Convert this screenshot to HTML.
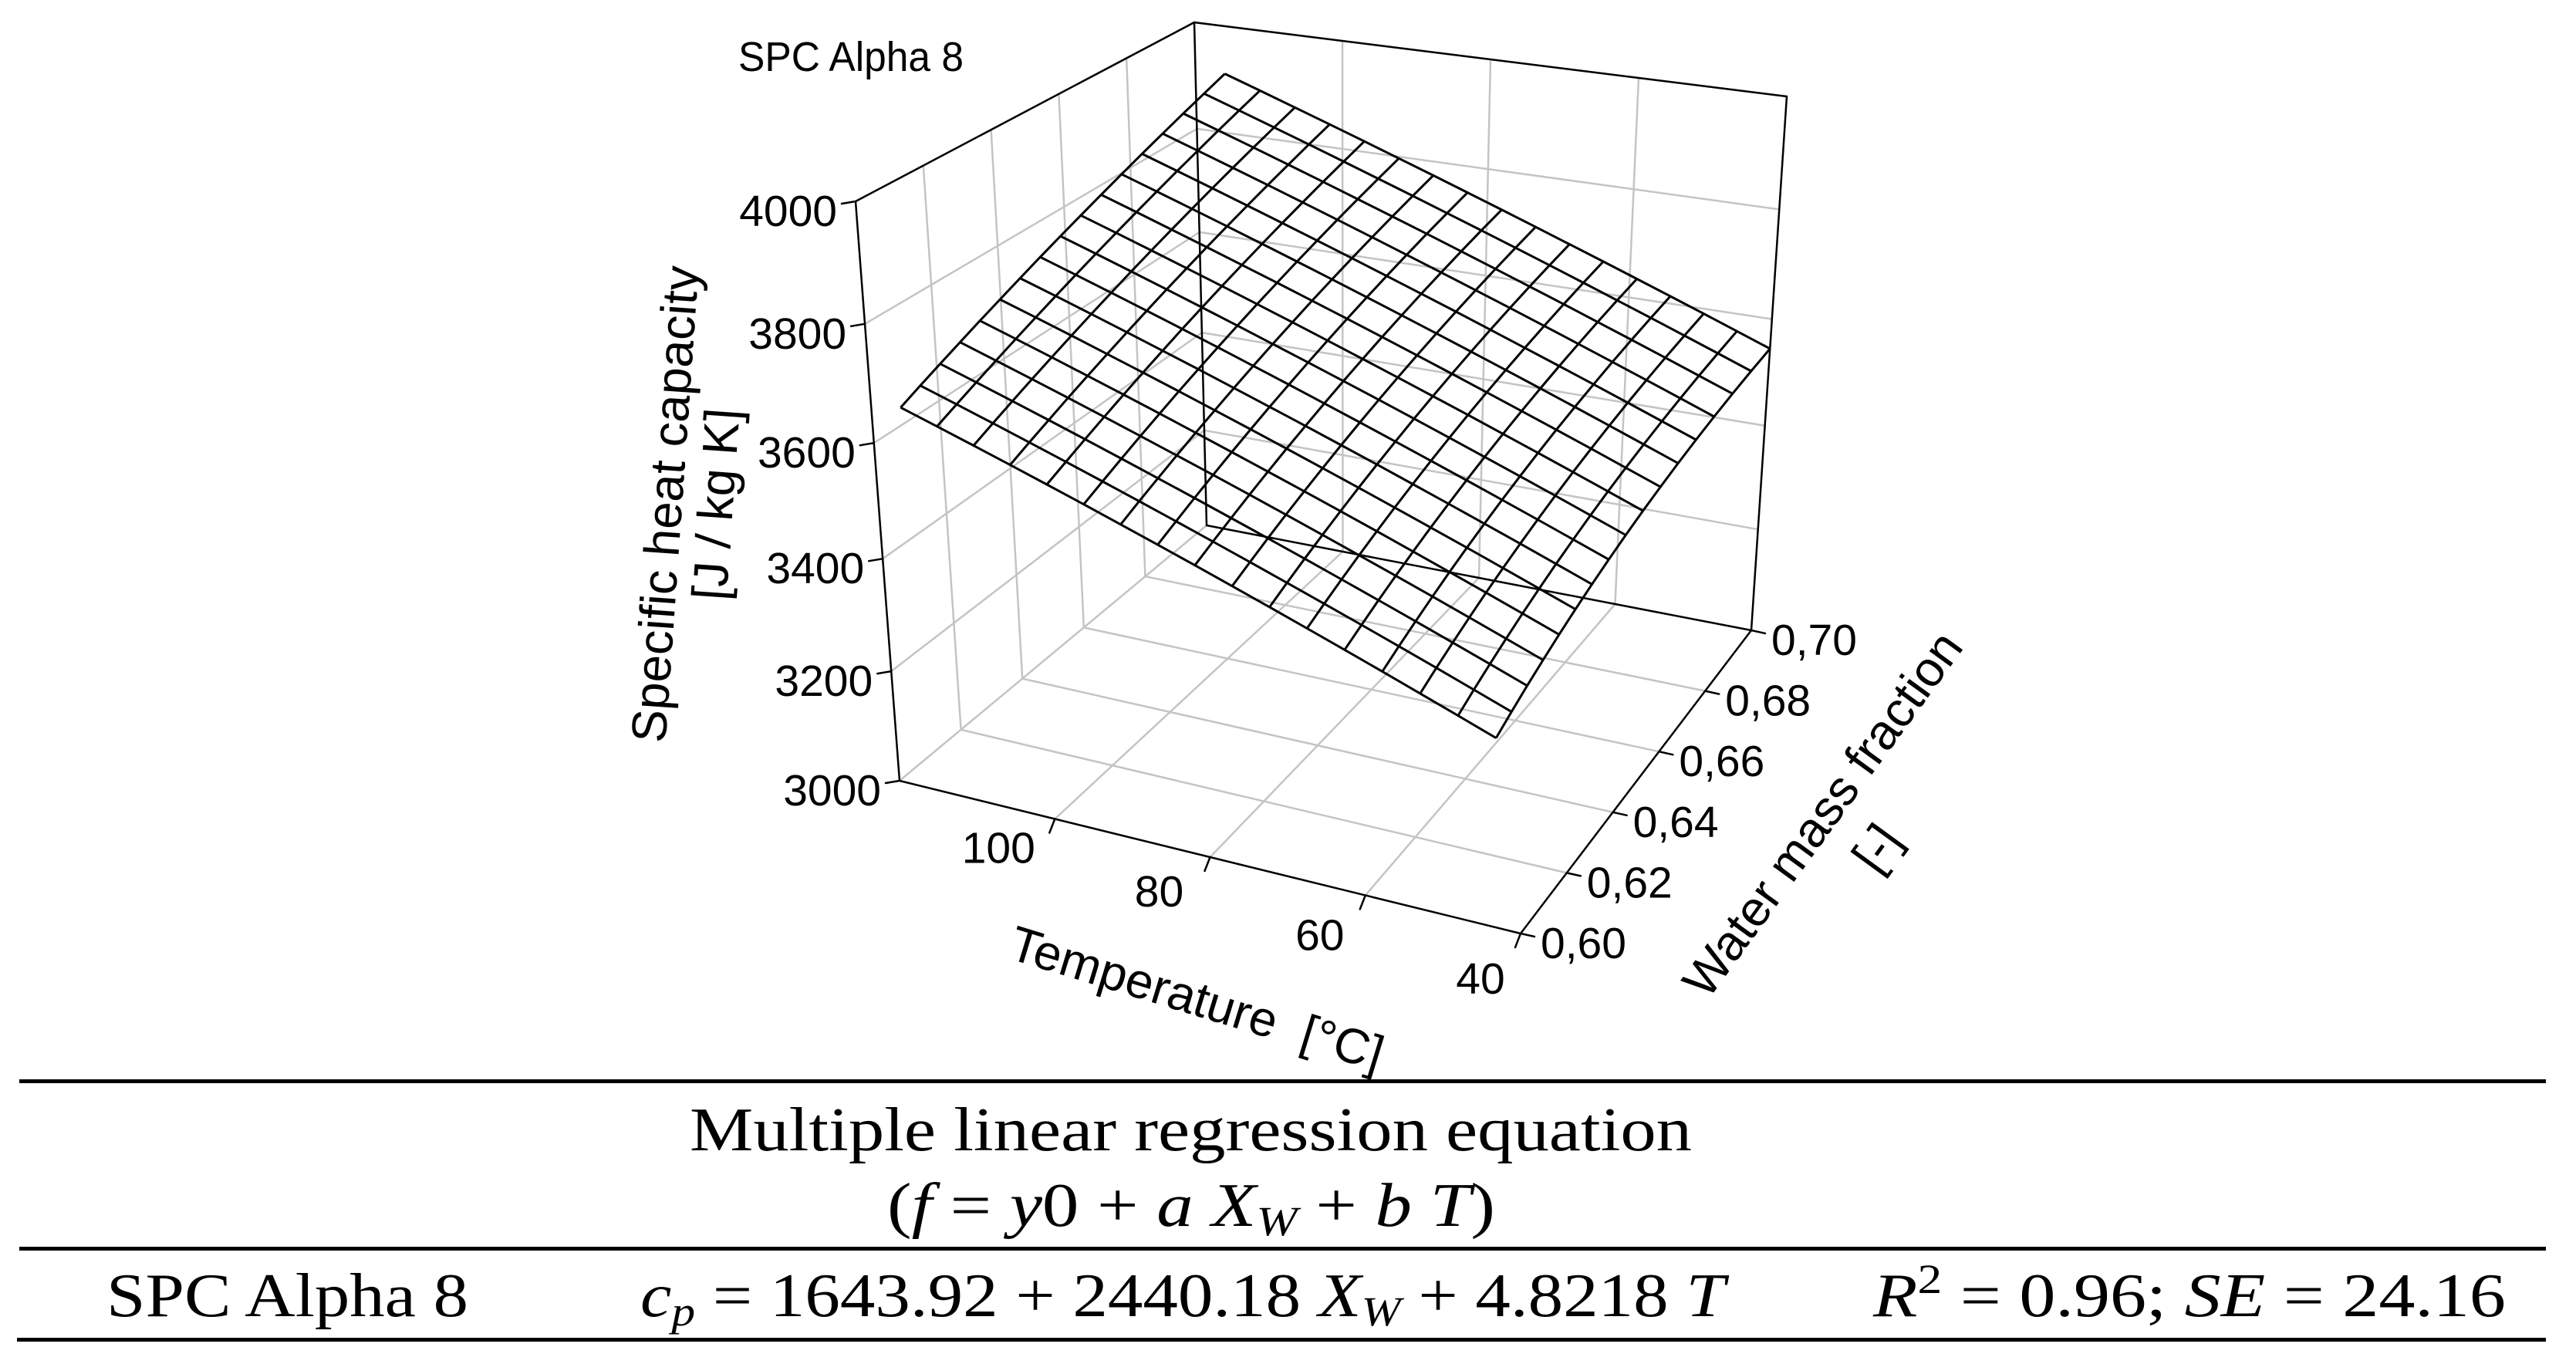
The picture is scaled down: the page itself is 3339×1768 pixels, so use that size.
<!DOCTYPE html>
<html><head><meta charset="utf-8"><style>
html,body{margin:0;padding:0;background:#fff;}
svg{display:block;}
</style></head><body>
<svg id="chart" xmlns="http://www.w3.org/2000/svg" width="3339" height="1768" viewBox="0 0 3339 1768">
<rect x="0" y="0" width="3339" height="1768" fill="#fff"/>
<g id="grid"></g>
<g id="box"></g>
<g id="mesh"></g>
<g id="ticks"></g>
<g id="labels" font-family="Liberation Sans, Arial, sans-serif" font-size="57" fill="#000"></g>
<text x="957" y="92" font-family="Liberation Sans, Arial, sans-serif" font-size="54" textLength="292" lengthAdjust="spacingAndGlyphs">SPC Alpha 8</text>
<g font-family="Liberation Sans, Arial, sans-serif" font-size="64" text-anchor="middle">
<text transform="translate(884,655) rotate(-86)">Specific heat capacity</text>
<text transform="translate(950,655) rotate(-86)">[J / kg K]</text>
</g>
<text xml:space="preserve" font-family="Liberation Sans, Arial, sans-serif" font-size="64" text-anchor="middle" transform="translate(1545,1315) rotate(17)">Temperature  [°C]</text>
<g font-family="Liberation Sans, Arial, sans-serif" font-size="64" text-anchor="middle">
<text transform="translate(2380,1068) rotate(-54)">Water mass fraction</text>
<text transform="translate(2450,1112) rotate(-54)">[-]</text>
</g>
<g font-family="Liberation Serif, 'Times New Roman', serif" font-size="80">
<rect x="25" y="1399" width="3275" height="5" fill="#000"/>
<rect x="25" y="1616" width="3275" height="5" fill="#000"/>
<rect x="22" y="1734" width="3278" height="5" fill="#000"/>
<text x="894" y="1491" textLength="1299" lengthAdjust="spacingAndGlyphs">Multiple linear regression equation</text>
<text x="1150" y="1589" textLength="788" lengthAdjust="spacingAndGlyphs">(<tspan font-style="italic">f</tspan> = <tspan font-style="italic">y</tspan>0 + <tspan font-style="italic">a X</tspan><tspan font-style="italic" font-size="54" dy="12">W</tspan><tspan dy="-12"> + </tspan><tspan font-style="italic">b T</tspan>)</text>
<text x="138" y="1706" textLength="469" lengthAdjust="spacingAndGlyphs">SPC Alpha 8</text>
<text x="830" y="1706" textLength="1406" lengthAdjust="spacingAndGlyphs"><tspan font-style="italic">c</tspan><tspan font-style="italic" font-size="54" dy="12">p</tspan><tspan dy="-12"> = 1643.92 + 2440.18 </tspan><tspan font-style="italic">X</tspan><tspan font-style="italic" font-size="54" dy="12">W</tspan><tspan dy="-12"> + 4.8218 </tspan><tspan font-style="italic">T</tspan></text>
<text x="2428" y="1706" textLength="820" lengthAdjust="spacingAndGlyphs"><tspan font-style="italic">R</tspan><tspan font-size="54" dy="-30">2</tspan><tspan dy="30"> = 0.96; </tspan><tspan font-style="italic">SE</tspan> = 24.16</text>
</g>
</svg>
<script>
// ---- data ----
const tempGrid = [40, 44.75, 49.5, 54.25, 59, 63.75, 68.5, 73.25, 78, 82.75, 87.5, 92.25, 97, 101.75, 106.5, 111.25, 116];
const waterGrid = [0.6, 0.60625, 0.6125, 0.61875, 0.625, 0.63125, 0.6375, 0.64375, 0.65, 0.65625, 0.6625, 0.66875, 0.675, 0.68125, 0.6875, 0.69375, 0.7];
const coefY0 = [1643.92];
const coefA = [2440.18];
const coefB = [4.8218];
const tempTicks = [100, 80, 60, 40];
const waterTicks = [0.60, 0.62, 0.64, 0.66, 0.68, 0.70];
const waterTickLabels = ["0,60", "0,62", "0,64", "0,66", "0,68", "0,70"];
const cpTicks = [3000, 3200, 3400, 3600, 3800, 4000];
const tempDomain = [120, 40];
const waterDomain = [0.6, 0.7];
const cpDomain = [3000, 4000];

// ---- projection (box corners in screen space, trilinear) ----
const C = {
  p000:[1166,1012], p100:[1971,1210], p010:[1564,681], p110:[2270,817],
  p001:[1109,261], p101:[1860,325], p011:[1548,29], p111:[2316,125]
};
function persp(z){ const c=-0.068; return z*(1+c)/(1+c*z); }
function proj(T, X, cp){
  const t=(T-tempDomain[0])/(tempDomain[1]-tempDomain[0]);
  const x=(X-waterDomain[0])/(waterDomain[1]-waterDomain[0]);
  const z=persp((cp-cpDomain[0])/(cpDomain[1]-cpDomain[0]));
  const out=[0,0];
  for(let k=0;k<2;k++){
    const a=C.p000[k]*(1-t)+C.p100[k]*t, b=C.p010[k]*(1-t)+C.p110[k]*t;
    const c=C.p001[k]*(1-t)+C.p101[k]*t, d=C.p011[k]*(1-t)+C.p111[k]*t;
    const lo=a*(1-x)+b*x, hi=c*(1-x)+d*x;
    out[k]=lo*(1-z)+hi*z;
  }
  return out;
}
const NS="http://www.w3.org/2000/svg";
function line(g,p,q,stroke,w,name){
  const l=document.createElementNS(NS,'line');
  l.setAttribute('x1',p[0].toFixed(1));l.setAttribute('y1',p[1].toFixed(1));
  l.setAttribute('x2',q[0].toFixed(1));l.setAttribute('y2',q[1].toFixed(1));
  l.setAttribute('stroke',stroke);l.setAttribute('stroke-width',w);l.setAttribute('stroke-linecap','round');
  
  
  g.appendChild(l);return l;
}
const Tlo=tempDomain[0], Thi=tempDomain[1], Xlo=waterDomain[0], Xhi=waterDomain[1], Zlo=cpDomain[0], Zhi=cpDomain[1];
const grid=document.getElementById('grid'), box=document.getElementById('box'), mesh=document.getElementById('mesh'), ticks=document.getElementById('ticks'), labels=document.getElementById('labels');
const GR='#c4c4c4';
cpTicks.forEach(v=>{ if(v===Zlo) return;
  line(grid,proj(Tlo,Xlo,v),proj(Tlo,Xhi,v),GR,2.5,'left-wall-gridline');
  line(grid,proj(Tlo,Xhi,v),proj(Thi,Xhi,v),GR,2.5,'back-wall-gridline');
});
tempTicks.forEach(v=>{ if(v===Thi) return;
  line(grid,proj(v,Xhi,Zlo),proj(v,Xhi,Zhi),GR,2.5,'back-wall-vertical-gridline');
  line(grid,proj(v,Xlo,Zlo),proj(v,Xhi,Zlo),GR,2.5,'floor-gridline-temperature');
});
waterTicks.forEach(v=>{ if(v===Xlo||v===Xhi) return;
  line(grid,proj(Tlo,v,Zlo),proj(Tlo,v,Zhi),GR,2.5,'left-wall-vertical-gridline');
  line(grid,proj(Tlo,v,Zlo),proj(Thi,v,Zlo),GR,2.5,'floor-gridline-water');
});
line(grid,proj(Tlo,Xlo,Zlo),proj(Tlo,Xhi,Zlo),GR,2.5,'floor-left-edge');
line(box,proj(Tlo,Xlo,Zlo),proj(Tlo,Xlo,Zhi),'#000',2.5,'z-axis-line');
line(box,proj(Tlo,Xlo,Zhi),proj(Tlo,Xhi,Zhi),'#000',2.5,'box-top-left-edge');
line(box,proj(Tlo,Xhi,Zhi),proj(Thi,Xhi,Zhi),'#000',2.5,'box-top-back-edge');
line(box,proj(Tlo,Xhi,Zlo),proj(Tlo,Xhi,Zhi),'#000',2.5,'box-back-vertical-edge');
line(box,proj(Thi,Xhi,Zlo),proj(Thi,Xhi,Zhi),'#000',2.5,'box-right-vertical-edge');
line(box,proj(Tlo,Xhi,Zlo),proj(Thi,Xhi,Zlo),'#000',2.5,'box-floor-back-edge');
line(box,proj(Tlo,Xlo,Zlo),proj(Thi,Xlo,Zlo),'#000',2.5,'temperature-axis-line');
line(box,proj(Thi,Xlo,Zlo),proj(Thi,Xhi,Zlo),'#000',2.5,'water-axis-line');
function cpAt(T,X){ return coefY0[0]+coefA[0]*X+coefB[0]*T; }
waterGrid.forEach(X=>{
  const pts=tempGrid.map(T=>proj(T,X,cpAt(T,X)).map(v=>v.toFixed(1)).join(','));
  const pl=document.createElementNS(NS,'polyline');
  pl.setAttribute('points',pts.join(' '));pl.setAttribute('fill','none');pl.setAttribute('stroke','#000');pl.setAttribute('stroke-width','3');
  
  
  mesh.appendChild(pl);
});
tempGrid.forEach(T=>{
  const pts=waterGrid.map(X=>proj(T,X,cpAt(T,X)).map(v=>v.toFixed(1)).join(','));
  const pl=document.createElementNS(NS,'polyline');
  pl.setAttribute('points',pts.join(' '));pl.setAttribute('fill','none');pl.setAttribute('stroke','#000');pl.setAttribute('stroke-width','3');
  
  
  mesh.appendChild(pl);
});
function txt(x,y,s,anchor,name){
  const t=document.createElementNS(NS,'text');
  t.setAttribute('x',x.toFixed(1));t.setAttribute('y',y.toFixed(1));t.setAttribute('text-anchor',anchor);
  t.textContent=s;
  
  
  labels.appendChild(t);
}
cpTicks.forEach(v=>{
  const p=proj(Tlo,Xlo,v);
  line(ticks,p,[p[0]-18,p[1]+3],'#000',2.5,'z-tick');
  txt(p[0]-24,p[1]+32,String(v),'end','z-tick-label');
});
tempTicks.forEach(v=>{
  const p=proj(v,Xlo,Zlo);
  line(ticks,p,[p[0]-7,p[1]+18],'#000',2.5,'temperature-tick');
  const s=(Tlo-v)/(Tlo-Thi);
  txt(p[0]-80+28*s,p[1]+50+28*s,String(v),'middle','temperature-tick-label');
});
waterTicks.forEach((v,i)=>{
  const p=proj(Thi,v,Zlo);
  line(ticks,p,[p[0]+18,p[1]+4],'#000',2.5,'water-tick');
  txt(p[0]+26,p[1]+32,waterTickLabels[i],'start','water-tick-label');
});
</script>
</body></html>
